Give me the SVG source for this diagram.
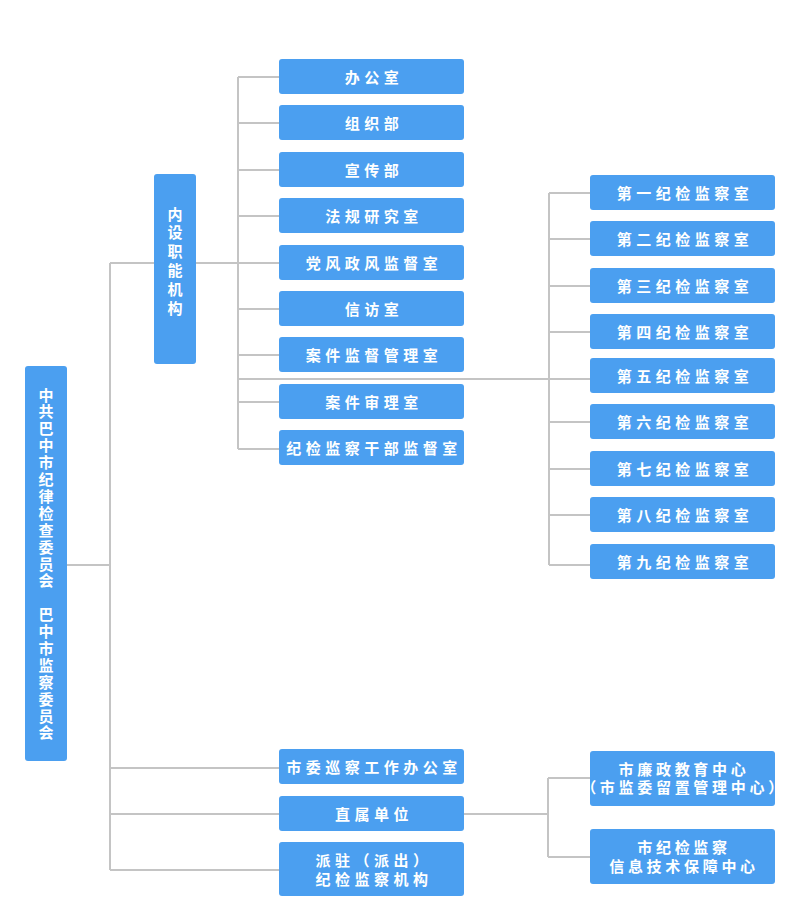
<svg xmlns="http://www.w3.org/2000/svg" width="800" height="921" viewBox="0 0 800 921">
<style>
.b{fill:#4b9ff0}
.t{font-family:"Noto Sans CJK SC","Noto Sans",sans-serif;font-size:15px;font-weight:bold;fill:#fff;text-anchor:middle;letter-spacing:4.5px}
.v{font-family:"Noto Sans CJK SC","Noto Sans",sans-serif;font-size:15px;font-weight:bold;fill:#fff;text-anchor:middle}
.c{fill:none;stroke:#c4c4c4;stroke-width:2}
</style>
<rect width="800" height="921" fill="#fff"/>
<g id="connectors" class="c">
<path d="M67 565H110M110 263V870M110 263H154M110 768H279M110 814H279M110 870H279"/>
<path d="M196 263H279M238 77V449M238 77H279M238 123H279M238 170H279M238 216H279M238 309H279M238 355H279M238 402H279M238 449H279M238 379H590"/>
<path d="M549 193V565M549 193H590M549 239H590M549 286H590M549 332H590M549 422H590M549 469H590M549 515H590M549 565H590"/>
<path d="M464 814H548M548 778V857M548 778H590M548 857H590"/>
</g>
<g id="root"><rect class="b" x="25" y="366" width="42" height="395" rx="3"/>
<text class="v"><tspan x="46" y="400.5">中</tspan><tspan x="46" dy="16.9">共</tspan><tspan x="46" dy="16.9">巴</tspan><tspan x="46" dy="16.9">中</tspan><tspan x="46" dy="16.9">市</tspan><tspan x="46" dy="16.9">纪</tspan><tspan x="46" dy="16.9">律</tspan><tspan x="46" dy="16.9">检</tspan><tspan x="46" dy="16.9">查</tspan><tspan x="46" dy="16.9">委</tspan><tspan x="46" dy="16.9">员</tspan><tspan x="46" dy="16.9">会</tspan><tspan x="46" dy="33.8">巴</tspan><tspan x="46" dy="16.9">中</tspan><tspan x="46" dy="16.9">市</tspan><tspan x="46" dy="16.9">监</tspan><tspan x="46" dy="16.9">察</tspan><tspan x="46" dy="16.9">委</tspan><tspan x="46" dy="16.9">员</tspan><tspan x="46" dy="16.9">会</tspan></text></g>
<g id="neishe"><rect class="b" x="154" y="174" width="42" height="190" rx="3"/>
<text class="v"><tspan x="175" y="219.5">内</tspan><tspan x="175" dy="18.9">设</tspan><tspan x="175" dy="18.9">职</tspan><tspan x="175" dy="18.9">能</tspan><tspan x="175" dy="18.9">机</tspan><tspan x="175" dy="18.9">构</tspan></text></g>
<g id="n1"><rect class="b" x="279" y="59" width="185" height="35" rx="3"/><text class="t" x="374" y="83">办公室</text></g>
<g id="n2"><rect class="b" x="279" y="105" width="185" height="35" rx="3"/><text class="t" x="374" y="129">组织部</text></g>
<g id="n3"><rect class="b" x="279" y="152" width="185" height="35" rx="3"/><text class="t" x="374" y="176">宣传部</text></g>
<g id="n4"><rect class="b" x="279" y="198" width="185" height="35" rx="3"/><text class="t" x="374" y="222">法规研究室</text></g>
<g id="n5"><rect class="b" x="279" y="245" width="185" height="35" rx="3"/><text class="t" x="374" y="269">党风政风监督室</text></g>
<g id="n6"><rect class="b" x="279" y="291" width="185" height="35" rx="3"/><text class="t" x="374" y="315">信访室</text></g>
<g id="n7"><rect class="b" x="279" y="337" width="185" height="35" rx="3"/><text class="t" x="374" y="361">案件监督管理室</text></g>
<g id="n8"><rect class="b" x="279" y="384" width="185" height="35" rx="3"/><text class="t" x="374" y="408">案件审理室</text></g>
<g id="n9"><rect class="b" x="279" y="430" width="185" height="35" rx="3"/><text class="t" x="374" y="454">纪检监察干部监督室</text></g>
<g id="r1"><rect class="b" x="590" y="175" width="185" height="35" rx="3"/><text class="t" x="685" y="199">第一纪检监察室</text></g>
<g id="r2"><rect class="b" x="590" y="221" width="185" height="35" rx="3"/><text class="t" x="685" y="245">第二纪检监察室</text></g>
<g id="r3"><rect class="b" x="590" y="268" width="185" height="35" rx="3"/><text class="t" x="685" y="292">第三纪检监察室</text></g>
<g id="r4"><rect class="b" x="590" y="314" width="185" height="35" rx="3"/><text class="t" x="685" y="338">第四纪检监察室</text></g>
<g id="r5"><rect class="b" x="590" y="358" width="185" height="35" rx="3"/><text class="t" x="685" y="382">第五纪检监察室</text></g>
<g id="r6"><rect class="b" x="590" y="404" width="185" height="35" rx="3"/><text class="t" x="685" y="428">第六纪检监察室</text></g>
<g id="r7"><rect class="b" x="590" y="451" width="185" height="35" rx="3"/><text class="t" x="685" y="475">第七纪检监察室</text></g>
<g id="r8"><rect class="b" x="590" y="497" width="185" height="35" rx="3"/><text class="t" x="685" y="521">第八纪检监察室</text></g>
<g id="r9"><rect class="b" x="590" y="544" width="185" height="35" rx="3"/><text class="t" x="685" y="568">第九纪检监察室</text></g>
<g id="xuncha"><rect class="b" x="279" y="749" width="185" height="35" rx="3"/><text class="t" x="374" y="773">市委巡察工作办公室</text></g>
<g id="zhishu"><rect class="b" x="279" y="796" width="185" height="35" rx="3"/><text class="t" x="374" y="820">直属单位</text></g>
<g id="paizhu"><rect class="b" x="279" y="842" width="185" height="54" rx="3"/><text class="t" x="374" y="866">派驻（派出）</text><text class="t" x="374" y="885">纪检监察机构</text></g>
<g id="lianzheng"><rect class="b" x="590" y="751" width="185" height="55" rx="3"/><text class="t" x="684" y="775" style="letter-spacing:3.7px">市廉政教育中心</text><text class="t" x="684" y="793" style="letter-spacing:3.7px">（市监委留置管理中心）</text></g>
<g id="xinxi"><rect class="b" x="590" y="829" width="185" height="55" rx="3"/><text class="t" x="684" y="853" style="letter-spacing:3.7px">市纪检监察</text><text class="t" x="684" y="872" style="letter-spacing:3.7px">信息技术保障中心</text></g>
</svg>
